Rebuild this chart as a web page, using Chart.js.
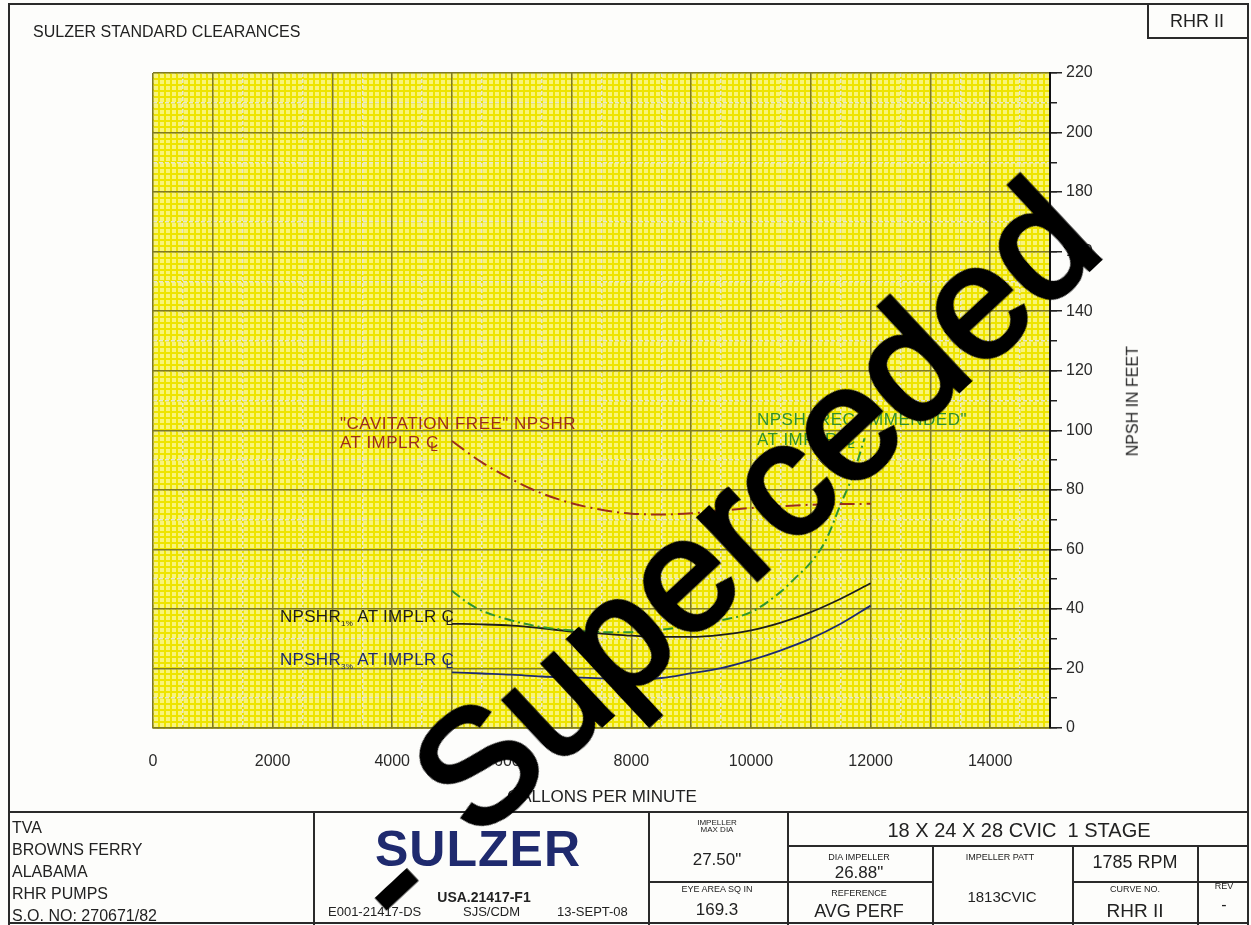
<!DOCTYPE html>
<html>
<head>
<meta charset="utf-8">
<script src="https://cdn.jsdelivr.net/npm/chart.js@4.4.1/dist/chart.umd.min.js"></script>
<style>
  body { margin: 0; background: #fff; font-family: 'Liberation Sans', Arial, sans-serif; }
  #page { position: relative; width: 1251px; height: 925px; overflow: hidden; background: #fdfdfb; }
  #wrap { position: absolute; left: 0; top: 0; width: 1251px; height: 925px; }
  .t { position: absolute; white-space: nowrap; line-height: 1.15; color: #222; }
  .ln { position: absolute; background: #2a2a2a; }
  .cl { position: relative; display: inline-block; }
  .cl i { position: absolute; font-style: normal; left: 0.3em; top: 0.45em; font-size: 0.8em; }
  .wm { position: absolute; font-size: 160px; line-height: 1; color: #000; -webkit-text-stroke: 5px #000;
        white-space: nowrap; transform: translate(-50%, -50%) rotate(-43deg); }
</style>
</head>
<body>
<div id="page">
  <div id="wrap"><canvas id="chart"></canvas></div>
</div>
<script>
// axis ranges / ticks
const gpmMin = 0, gpmMax = 15000;
const ftMin = 0, ftMax = 220;

// "CAVITATION FREE" NPSHR at impeller centreline
const cavFreeGpm = [5000, 5250, 5500, 6000, 6500, 7000, 7500, 8000, 8500, 9000, 9500, 10000, 10500, 11000, 11500, 12000];
const cavFreeFt  = [96.4, 92.7, 89.2, 83.5, 78.8, 75.5, 73.3, 72.0, 71.7, 72.1, 73.0, 73.9, 74.5, 75.0, 75.2, 75.3];

// NPSH "RECOMMENDED"
const recGpm = [5000, 5250, 5500, 6000, 6500, 7000, 7500, 8000, 8500, 9000, 9500, 10000, 10500, 10750, 11000, 11250, 11500, 11700, 11900];
const recFt  = [46.1, 42.2, 39.4, 36.1, 33.9, 32.8, 32.2, 32.2, 33.0, 34.4, 36.2, 38.9, 45.8, 50.6, 55.6, 63.0, 75.2, 84.7, 97.3];

// NPSHR 1%
const npshr1Gpm = [5000, 5500, 6000, 6500, 7000, 7500, 8000, 8500, 9000, 9500, 10000, 10500, 11000, 11500, 12000];
const npshr1Ft  = [35.0, 34.8, 34.4, 33.5, 32.4, 31.7, 31.0, 30.6, 30.6, 31.3, 32.8, 35.4, 38.9, 43.4, 48.6];

// NPSHR 3%
const npshr3Gpm = [5000, 5500, 6000, 6500, 7000, 7500, 8000, 8500, 9000, 9500, 10000, 10500, 11000, 11500, 12000];
const npshr3Ft  = [18.7, 18.3, 17.9, 17.3, 17.0, 16.7, 16.5, 16.8, 18.4, 20.1, 22.8, 26.1, 30.0, 35.0, 41.1];

const page = document.getElementById('page');

function put(html, x, cy, size, opts = {}) {
    const d = document.createElement('div');
    d.className = 't';
    d.innerHTML = html;
    d.style.fontSize = size + 'px';
    d.style.left = x + 'px';
    d.style.top = (cy - size * 0.575) + 'px';
    if (opts.center) d.style.transform = 'translateX(-50%)';
    if (opts.color) d.style.color = opts.color;
    if (opts.bold) d.style.fontWeight = 'bold';
    if (opts.ls) d.style.letterSpacing = opts.ls + 'px';
    page.appendChild(d);
    return d;
}

function line(x1, y1, x2, y2, w = 2) {
    const d = document.createElement('div');
    d.className = 'ln';
    d.style.left = x1 + 'px';
    d.style.top = y1 + 'px';
    d.style.width = Math.max(x2 - x1, w) + 'px';
    d.style.height = Math.max(y2 - y1, w) + 'px';
    page.appendChild(d);
}

const toPoints = (xs, ys) => xs.map((x, i) => ({ x: x, y: ys[i] }));

// yellow chart paper behind the grid
const paperPlugin = {
    id: 'paper',
    beforeDraw(chart) {
        const { ctx, chartArea } = chart;
        ctx.save();
        ctx.fillStyle = '#f9f47a';
        ctx.fillRect(chartArea.left, chartArea.top, chartArea.right - chartArea.left, chartArea.bottom - chartArea.top);
        ctx.restore();
    }
};

Chart.defaults.font.family = "'Liberation Sans', Arial, sans-serif";

const hidden = (pos, step, color, width, dash) => ({
    type: 'linear',
    position: pos,
    min: pos === 'bottom' ? gpmMin : ftMin,
    max: pos === 'bottom' ? gpmMax : ftMax,
    weight: 0,
    ticks: { display: false, stepSize: step },
    grid: { color: color, lineWidth: width, drawTicks: false },
    border: { display: false, dash: dash },
    afterFit: s => { if (pos === 'bottom') s.height = 0; else s.width = 0; }
});

const yMid = hidden('right', 10, '#e6e6d6', 1.5, [4, 2]);
yMid.grid.drawTicks = true;
yMid.grid.tickLength = 7;
yMid.grid.tickColor = '#222';
yMid.grid.tickWidth = 1.5;
yMid.grid.tickBorderDash = [];

new Chart(document.getElementById('chart'), {
    type: 'line',
    data: {
        datasets: [
            {
                label: '"CAVITATION FREE" NPSHR',
                data: toPoints(cavFreeGpm, cavFreeFt),
                borderColor: '#9b2c1c',
                borderWidth: 2,
                borderDash: [15, 5, 2, 5],
                xAxisID: 'x', yAxisID: 'y'
            },
            {
                label: 'NPSH "RECOMMENDED"',
                data: toPoints(recGpm, recFt),
                borderColor: '#2f952f',
                borderWidth: 2,
                borderDash: [10, 4, 2, 4],
                xAxisID: 'x', yAxisID: 'y'
            },
            {
                label: 'NPSHR 1%',
                data: toPoints(npshr1Gpm, npshr1Ft),
                borderColor: '#1c1c1c',
                borderWidth: 1.8,
                xAxisID: 'x', yAxisID: 'y'
            },
            {
                label: 'NPSHR 3%',
                data: toPoints(npshr3Gpm, npshr3Ft),
                borderColor: '#1d2a72',
                borderWidth: 1.8,
                xAxisID: 'x', yAxisID: 'y'
            }
        ]
    },
    options: {
        responsive: true,
        maintainAspectRatio: false,
        animation: false,
        layout: { padding: { left: 153, top: 73, right: 0, bottom: 0 } },
        elements: {
            point: { radius: 0 },
            line: { tension: 0.4, cubicInterpolationMode: 'monotone', fill: false }
        },
        plugins: { legend: { display: false }, tooltip: { enabled: false } },
        scales: {
            xMinor: hidden('bottom', 100, '#eee400', 2, []),
            yMinor: hidden('right', 2, '#eee400', 2, []),
            xMid: hidden('bottom', 500, '#e6e6d6', 1.5, [4, 2]),
            yMid: yMid,
            x: {
                type: 'linear',
                position: 'bottom',
                min: gpmMin, max: gpmMax,
                weight: 10,
                ticks: {
                    stepSize: 1000,
                    autoSkip: false,
                    maxRotation: 0,
                    padding: 24,
                    color: '#2a2a2a',
                    font: { size: 16 },
                    callback: v => (v % 2000 === 0 && v < gpmMax ? String(v) : '')
                },
                grid: { color: '#7f7a22', lineWidth: 1.5, drawTicks: false },
                border: { display: true, color: '#7f7a22', width: 1.5 },
                afterFit: s => { s.height = 197; }
            },
            y: {
                type: 'linear',
                position: 'right',
                min: ftMin, max: ftMax,
                weight: 10,
                ticks: {
                    stepSize: 20,
                    padding: 4,
                    color: '#2a2a2a',
                    font: { size: 16 }
                },
                grid: { color: '#7f7a22', lineWidth: 1.5, drawTicks: true, tickLength: 12, tickColor: '#222', tickWidth: 1.5 },
                border: { display: true, color: '#111', width: 2 },
                afterFit: s => { s.width = 201; }
            }
        }
    },
    plugins: [paperPlugin]
});

// frame and title block
line(8, 3, 1249, 3);
line(8, 3, 8, 925);
line(1247, 3, 1247, 925);
line(1147, 3, 1147, 38);
line(1147, 37, 1249, 37);
line(8, 811, 1249, 811);
line(8, 922, 1249, 922);
line(313, 811, 313, 925, 1.5);
line(648, 811, 648, 925, 1.5);
line(787, 811, 787, 925, 1.5);
line(787, 845, 1249, 845, 1.5);
line(648, 881, 932, 881, 1.5);
line(1072, 881, 1249, 881, 1.5);
line(932, 845, 932, 925, 1.5);
line(1072, 845, 1072, 925, 1.5);
line(1197, 845, 1197, 925, 1.5);

put('SULZER STANDARD CLEARANCES', 33, 32, 16);
put('RHR II', 1197, 21, 18, { center: true });
put('GALLONS PER MINUTE', 602, 797, 17, { center: true });
const yTitle = put('NPSH IN FEET', 1133, 401, 16);
yTitle.style.transform = 'translate(-50%, 0) rotate(-90deg)';

// chart annotations
const CL = '<span class="cl">C<i>L</i></span>';
put('"CAVITATION FREE" NPSHR', 340, 424, 17, { color: '#9b2c1c', ls: 0.5 });
put('AT IMPLR ' + CL, 340, 443, 17, { color: '#9b2c1c', ls: 0.5 });
put('NPSH "RECOMMENDED"', 757, 420, 17, { color: '#2f8f2f', ls: 0.5 });
put('AT IMPLR ' + CL, 757, 440, 17, { color: '#2f8f2f', ls: 0.5 });
put('NPSHR<sub style="font-size:8px">1%</sub> AT IMPLR ' + CL, 280, 617, 17, { color: '#1c1c1c', ls: 0.3 });
put('NPSHR<sub style="font-size:8px">3%</sub> AT IMPLR ' + CL, 280, 660, 17, { color: '#1d2a72', ls: 0.3 });

// title block texts
put('TVA', 12, 828, 16);
put('BROWNS FERRY', 12, 850, 16);
put('ALABAMA', 12, 872, 16);
put('RHR PUMPS', 12, 894, 16);
put('S.O. NO: 270671/82', 12, 916, 16);
put('SULZER', 478, 850, 50, { center: true, bold: true, color: '#1f2a6e', ls: 1 });
put('USA.21417-F1', 484, 897, 14, { center: true, bold: true });
put('E001-21417-DS', 328, 912, 13);
put('SJS/CDM', 463, 912, 13);
put('13-SEPT-08', 557, 912, 13);
put('IMPELLER', 717, 823, 8, { center: true });
put('MAX DIA', 717, 830, 8, { center: true });
put('27.50"', 717, 860, 17, { center: true });
put('EYE AREA SQ IN', 717, 889, 9, { center: true });
put('169.3', 717, 910, 17, { center: true });
put('18 X 24 X 28 CVIC&nbsp;&nbsp;1 STAGE', 1019, 830, 20, { center: true });
put('DIA IMPELLER', 859, 857, 9, { center: true });
put('26.88"', 859, 873, 17, { center: true });
put('REFERENCE', 859, 893, 9, { center: true });
put('AVG PERF', 859, 911, 18, { center: true });
put('IMPELLER PATT', 1000, 857, 9, { center: true });
put('1813CVIC', 1002, 897, 15, { center: true });
put('1785 RPM', 1135, 862, 18, { center: true });
put('CURVE NO.', 1135, 889, 9, { center: true });
put('RHR II', 1135, 911, 19, { center: true });
put('REV', 1224, 886, 9, { center: true });
put('-', 1224, 905, 16, { center: true });

// "Superceded" stamp over everything
const wm = document.createElement('div');
wm.className = 'wm';
wm.textContent = 'Superceded';
wm.style.left = '754px';
wm.style.top = '507px';
page.appendChild(wm);
const wm2 = document.createElement('div');
wm2.className = 'wm';
wm2.textContent = '-';
wm2.style.left = '388px';
wm2.style.top = '880px';
page.appendChild(wm2);
</script>
</body>
</html>
